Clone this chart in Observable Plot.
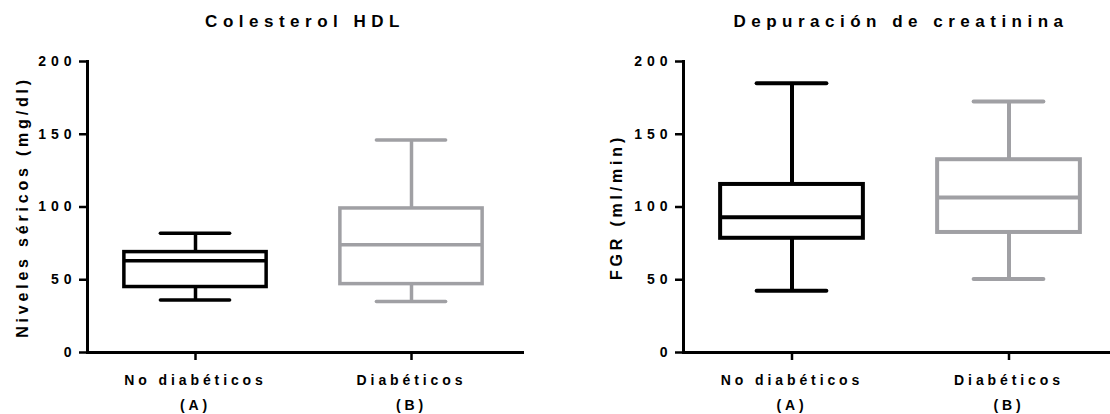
<!DOCTYPE html>
<html>
<head>
<meta charset="utf-8">
<script src="https://cdn.jsdelivr.net/npm/d3@7"></script>
<script src="https://cdn.jsdelivr.net/npm/@observablehq/plot@0.6"></script>
<style>
  html, body { margin: 0; padding: 0; background: #fff; overflow: hidden; }
  #chart { position: relative; width: 1110px; height: 414px; overflow: hidden; }
  #chart svg { position: absolute; top: 0; overflow: visible; }
  g[aria-label="y-axis tick label"] { letter-spacing: 5px; }
  g[aria-label="x-axis tick label"] { letter-spacing: 3.9px; }
  g[aria-label="text"].title { letter-spacing: 5.5px; }
  g[aria-label="text"].ylabel { letter-spacing: 3.8px; }
</style>
</head>
<body>
<div id="chart"></div>
<script>
// Groups compared in both panels
const categories = ["No diabéticos", "Diabéticos"];
const groupTags = ["(A)", "(B)"];
const yTicks = [0, 50, 100, 150, 200];

// HDL cholesterol (mg/dl): five-number summaries per group
const hdlMin = [36, 35];
const hdlQ1 = [45, 47];
const hdlMedian = [63, 74];
const hdlQ3 = [69, 99];
const hdlMax = [82, 146];

// Creatinine clearance (ml/min): five-number summaries per group
const crMin = [42.5, 50.5];
const crQ1 = [78.5, 82.5];
const crMedian = [93, 106.5];
const crQ3 = [115.5, 132.5];
const crMax = [185, 172.5];

const boxColors = ["#000000", "#a0a0a4"];
const font = "'Liberation Sans', Arial, Helvetica, sans-serif";

function rows(min, q1, median, q3, max) {
  return categories.map((cat, i) => ({cat, min: min[i], q1: q1[i], median: median[i], q3: q3[i], max: max[i]}));
}

function panel({data, title, ylabel, width, marginLeft, marginRight, xRange, yLabelDx, sw}) {
  const band = xRange[1] - xRange[0];
  const step = band / categories.length;
  const boxInset = (step - 143) / 2;
  const capInset = (step - 70) / 2;
  const plot = Plot.plot({
    width, height: 414,
    marginTop: 61, marginBottom: 62, marginLeft, marginRight,
    style: {fontFamily: font, fontWeight: "bold", background: "transparent", color: "#000", overflow: "visible"},
    x: {domain: categories, range: xRange, padding: 0},
    y: {domain: [0, 200]},
    color: {domain: categories, range: boxColors},
    marks: [
      // whiskers
      Plot.ruleX(data, {x: "cat", y1: "q3", y2: "max", stroke: "cat", strokeWidth: sw}),
      Plot.ruleX(data, {x: "cat", y1: "min", y2: "q1", stroke: "cat", strokeWidth: sw}),
      // whisker caps
      Plot.tickY(data, {x: "cat", y: "max", stroke: "cat", strokeWidth: sw, inset: capInset, strokeLinecap: "round"}),
      Plot.tickY(data, {x: "cat", y: "min", stroke: "cat", strokeWidth: sw, inset: capInset, strokeLinecap: "round"}),
      // interquartile box
      Plot.barY(data, {x: "cat", y1: "q1", y2: "q3", fill: "white", stroke: "cat", strokeWidth: sw, insetLeft: boxInset, insetRight: boxInset}),
      // median
      Plot.tickY(data, {x: "cat", y: "median", stroke: "cat", strokeWidth: sw, inset: boxInset}),
      // axes
      Plot.axisY({ticks: yTicks, tickSize: 8, tickPadding: 3, strokeWidth: 2.5, fontSize: 14, label: null}),
      Plot.axisX({
        tickSize: 8, tickPadding: 7.5, strokeWidth: 2.5, fontSize: 14, lineHeight: 1.74, label: null,
        tickFormat: (d) => `${d}\n${groupTags[categories.indexOf(d)]}`
      }),
      Plot.frame({anchor: "left", strokeWidth: 3}),
      Plot.frame({anchor: "bottom", strokeWidth: 3}),
      // panel title and y label
      Plot.text([title], {frameAnchor: "top", dy: -35, lineAnchor: "bottom", fontSize: 17, fontWeight: "bold"}),
      Plot.text([ylabel], {frameAnchor: "left", dx: yLabelDx, rotate: -90, textAnchor: "middle", lineAnchor: "middle", fontSize: 16, fontWeight: "bold"})
    ]
  });
  const texts = plot.querySelectorAll('g[aria-label="text"]');
  texts[0].classList.add("title");
  texts[1].classList.add("ylabel");
  return plot;
}

const left = panel({
  data: rows(hdlMin, hdlQ1, hdlMedian, hdlQ3, hdlMax),
  title: "Colesterol HDL",
  ylabel: "Niveles séricos (mg/dl)",
  width: 555, marginLeft: 87, marginRight: 33,
  xRange: [86, 519.5], yLabelDx: -64.5, sw: 3.5
});
left.style.left = "0px";

const right = panel({
  data: rows(crMin, crQ1, crMedian, crQ3, crMax),
  title: "Depuración de creatinina",
  ylabel: "FGR (ml/min)",
  width: 563, marginLeft: 128, marginRight: 0,
  xRange: [127.5, 562], yLabelDx: -66.5, sw: 4
});
right.style.left = "555px";

document.getElementById("chart").append(left, right);
</script>
</body>
</html>
